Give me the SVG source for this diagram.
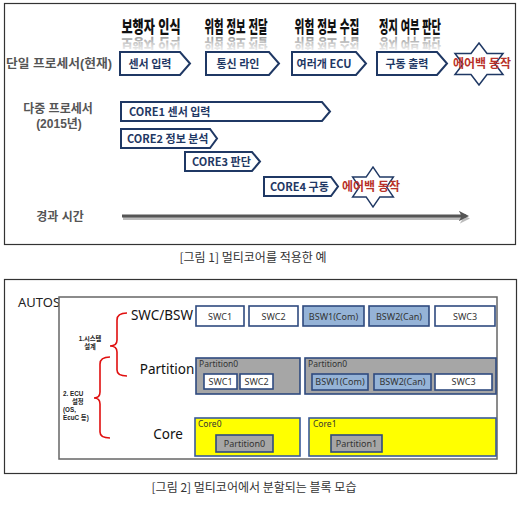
<svg xmlns="http://www.w3.org/2000/svg" width="520" height="509" viewBox="0 0 520 509">
<style>
.frame{fill:#fff;stroke:#333;stroke-width:1.2}
.hdr{font-family:"Liberation Sans","Noto Sans CJK KR",sans-serif;font-weight:900;font-size:17px;fill:#111;text-anchor:middle}
.refl{font-family:"Liberation Sans","Noto Sans CJK KR",sans-serif;font-weight:900;font-size:17px;fill:url(#rg);text-anchor:middle}
.rowlbl{font-family:"Liberation Sans","Noto Sans CJK KR",sans-serif;font-weight:700;font-size:12px;fill:#555;text-anchor:middle}
.chev{fill:#fff;stroke:#1F3864;stroke-width:2;stroke-linejoin:miter}
.chevt{font-family:"Noto Sans CJK KR","Noto Sans",sans-serif;font-weight:700;font-size:11px;fill:#1F3864}
.star{fill:#fff;stroke:#1F3864;stroke-width:1.5}
.red{font-family:"Noto Sans CJK KR","Noto Sans",sans-serif;font-weight:700;font-size:12px;fill:#B8322A;text-anchor:middle}
.cap{font-family:"Noto Sans CJK KR","Noto Sans",sans-serif;font-size:12px;fill:#333;text-anchor:middle}
.lbl2{font-family:"Noto Sans","Noto Sans CJK KR",sans-serif;font-size:13.5px;fill:#111;text-anchor:middle}
.bx{fill:#fff;stroke:#2F4A7F;stroke-width:1.6}
.bsw{fill:#95B3D7;stroke:#2F4A7F;stroke-width:1.6}
.part{fill:#A6A6A6;stroke:#2F4A7F;stroke-width:1.6}
.core{fill:#FFFF00;stroke:#3A5A9A;stroke-width:1.6}
.bt{font-family:"Noto Sans","Liberation Sans",sans-serif;font-size:9px;fill:#333;text-anchor:middle}
.st{font-family:"Noto Sans","Liberation Sans",sans-serif;font-size:8.5px;fill:#333}
.tiny{font-family:"Liberation Sans","Noto Sans CJK KR",sans-serif;font-weight:700;font-size:6.3px;fill:#222}
.brace{fill:none;stroke:#E01010;stroke-width:1.6}
</style>
<defs>
<linearGradient id="rg" x1="0" y1="0" x2="0" y2="1">
<stop offset="0" stop-color="#f4f4f4"/>
<stop offset="0.5" stop-color="#d0d0d0"/>
<stop offset="1" stop-color="#999"/>
</linearGradient>
<path id="starp" d="M0,-21 L8,-10.5 L24,-10.5 L16,0 L24,10.5 L8,10.5 L0,21 L-8,10.5 L-24,10.5 L-16,0 L-24,-10.5 L-8,-10.5 Z"/>
<marker id="ah" viewBox="0 0 10 10" refX="7" refY="5" markerWidth="3.5" markerHeight="3.5" orient="auto">
<path d="M0,0 L10,5 L0,10 L3,5 Z" fill="#555"/>
</marker>
<marker id="ahs" viewBox="0 0 10 10" refX="7" refY="5" markerWidth="3.5" markerHeight="3.5" orient="auto">
<path d="M0,0 L10,5 L0,10 L3,5 Z" fill="#bbb"/>
</marker>
</defs>

<!-- Figure 1 -->
<rect class="frame" x="4.5" y="3.5" width="511" height="241"/>

<g id="headers">
<text class="hdr" transform="translate(151,33) scale(0.713,1)">보행자 인식</text>
<text class="hdr" transform="translate(236,33) scale(0.61,1)">위험 정보 전달</text>
<text class="hdr" transform="translate(327,33) scale(0.628,1)">위험 정보 수집</text>
<text class="hdr" transform="translate(410,33) scale(0.60,1)">정지 여부 판단</text>
<text class="refl" transform="translate(151,39.4) scale(0.713,-0.75)">보행자 인식</text>
<text class="refl" transform="translate(236,39.4) scale(0.61,-0.75)">위험 정보 전달</text>
<text class="refl" transform="translate(327,39.4) scale(0.628,-0.75)">위험 정보 수집</text>
<text class="refl" transform="translate(410,39.4) scale(0.60,-0.75)">정지 여부 판단</text>
</g>

<g id="rowlabels">
<text class="rowlbl" x="59" y="68" textLength="106" lengthAdjust="spacingAndGlyphs">단일 프로세서(현재)</text>
<text class="rowlbl" x="58" y="113">다중 프로세서</text>
<text class="rowlbl" x="59" y="128">(2015년)</text>
<text class="rowlbl" x="60" y="221">경과 시간</text>
</g>

<g id="c1"><path class="chev" d="M120,52 H180 L190,63.5 L180,75 H120 Z"/><text class="chevt" x="150" y="67.5" text-anchor="middle">센서 입력</text></g>
<g id="c2"><path class="chev" d="M206,52 H269 L279,63.5 L269,75 H206 Z"/><text class="chevt" x="238" y="67.5" text-anchor="middle">통신 라인</text></g>
<g id="c3"><path class="chev" d="M292,52 H356 L366,63.5 L356,75 H292 Z"/><text class="chevt" x="324" y="67.5" text-anchor="middle">여러개 ECU</text></g>
<g id="c4"><path class="chev" d="M377,52 H437 L447,63.5 L437,75 H377 Z"/><text class="chevt" x="407" y="67.5" text-anchor="middle">구동 출력</text></g>
<g id="star1"><use href="#starp" class="star" transform="translate(479,64)"/><text class="red" x="482" y="68">에어백 동작</text></g>

<g id="core1"><path class="chev" d="M121,102 H322 L330,111.5 L322,121 H121 Z"/><text class="chevt" x="129" y="115.5">CORE1 센서 입력</text></g>
<g id="core2"><path class="chev" d="M121,129 H210 L217,138.5 L210,148 H121 Z"/><text class="chevt" x="127" y="142.5">CORE2 정보 분석</text></g>
<g id="core3"><path class="chev" d="M185,152 H252 L260,161.5 L252,171 H185 Z"/><text class="chevt" x="192" y="165.5">CORE3 판단</text></g>
<g id="core4"><path class="chev" d="M264,177 H331 L338,186.5 L331,196 H264 Z"/><text class="chevt" x="270" y="190.5">CORE4 구동</text></g>
<g id="star2"><use href="#starp" class="star" transform="translate(373,187) scale(0.85,0.95)" style="stroke-width:1.6"/><text class="red" x="371" y="191">에어백 동작</text></g>

<text class="cap" x="253" y="262">[그림 1] 멀티코어를 적용한 예</text>

<!-- Figure 2 -->
<rect class="frame" x="4.5" y="279.5" width="512" height="194"/>
<text x="18" y="307" font-family="Noto Sans, Liberation Sans, sans-serif" font-size="13" fill="#222">AUTOS</text>
<rect x="59" y="297" width="438" height="162" fill="#fff" stroke="#666" stroke-width="1.5"/>

<g id="sys-labels">
<text class="tiny" x="90" y="341" text-anchor="middle">1.시스템</text>
<text class="tiny" x="90" y="349" text-anchor="middle">설계</text>
<text class="tiny" x="63" y="396">2. ECU</text>
<text class="tiny" x="72" y="404">설정</text>
<text class="tiny" x="63" y="412">(OS,</text>
<text class="tiny" x="63" y="420">EcuC 등)</text>
</g>

<text class="lbl2" x="162" y="320">SWC/BSW</text>
<text class="lbl2" x="167" y="374">Partition</text>
<text class="lbl2" x="168" y="439">Core</text>

<g id="swc1"><rect class="bx" x="196" y="306" width="48" height="20"/><text class="bt" x="220" y="319.5">SWC1</text></g>
<g id="swc2"><rect class="bx" x="249" y="306" width="49" height="20"/><text class="bt" x="273.5" y="319.5">SWC2</text></g>
<g id="bsw1"><rect class="bsw" x="303" y="306" width="61" height="20"/><text class="bt" x="333.5" y="319.5">BSW1(Com)</text></g>
<g id="bsw2"><rect class="bsw" x="369" y="306" width="60" height="20"/><text class="bt" x="399" y="319.5">BSW2(Can)</text></g>
<g id="swc3"><rect class="bx" x="435" y="306" width="60" height="20"/><text class="bt" x="465" y="319.5">SWC3</text></g>

<g id="partA">
<rect class="part" x="196" y="358" width="104" height="36"/>
<text class="st" x="199" y="367">Partition0</text>
<rect class="bx" x="204" y="374" width="33" height="15"/><text class="bt" x="220.5" y="384.5">SWC1</text>
<rect class="bx" x="240" y="374" width="33" height="15"/><text class="bt" x="256.5" y="384.5">SWC2</text>
</g>
<g id="partB">
<rect class="part" x="305" y="358" width="191" height="36"/>
<text class="st" x="308" y="367">Partition0</text>
<rect class="bsw" x="312" y="374" width="56" height="16"/><text class="bt" x="340" y="385">BSW1(Com)</text>
<rect class="bsw" x="374" y="374" width="57" height="16"/><text class="bt" x="402.5" y="385">BSW2(Can)</text>
<rect class="bx" x="435" y="374" width="57" height="16"/><text class="bt" x="463.5" y="385">SWC3</text>
</g>
<g id="core0">
<rect class="core" x="195" y="418" width="105" height="38"/>
<text class="st" x="198" y="427">Core0</text>
<rect class="part" x="216" y="435" width="57" height="17"/><text class="bt" x="244.5" y="446.5">Partition0</text>
</g>
<g id="core1b">
<rect class="core" x="309" y="418" width="187" height="38"/>
<text class="st" x="313" y="427">Core1</text>
<rect class="part" x="331" y="435" width="51" height="17"/><text class="bt" x="356.5" y="446.5">Partition1</text>
</g>

<text class="cap" x="254" y="492">[그림 2] 멀티코어에서 분할되는 블록 모습</text>

<g id="connectors">
<line x1="123" y1="218.5" x2="467" y2="218.5" stroke="#bbb" stroke-width="3" marker-end="url(#ahs)"/>
<line x1="122" y1="216" x2="466" y2="216" stroke="#555" stroke-width="3" marker-end="url(#ah)"/>
<path class="brace" d="M127,313 Q117,313 117,320 L117,340 Q117,346 110,346 Q117,346 117,352 L117,370 Q117,376 127,376"/>
<path class="brace" d="M110,357 Q100,357 100,364 L100,392 Q100,398 94,398 Q100,398 100,404 L100,432 Q100,438 110,438"/>
</g>
</svg>
